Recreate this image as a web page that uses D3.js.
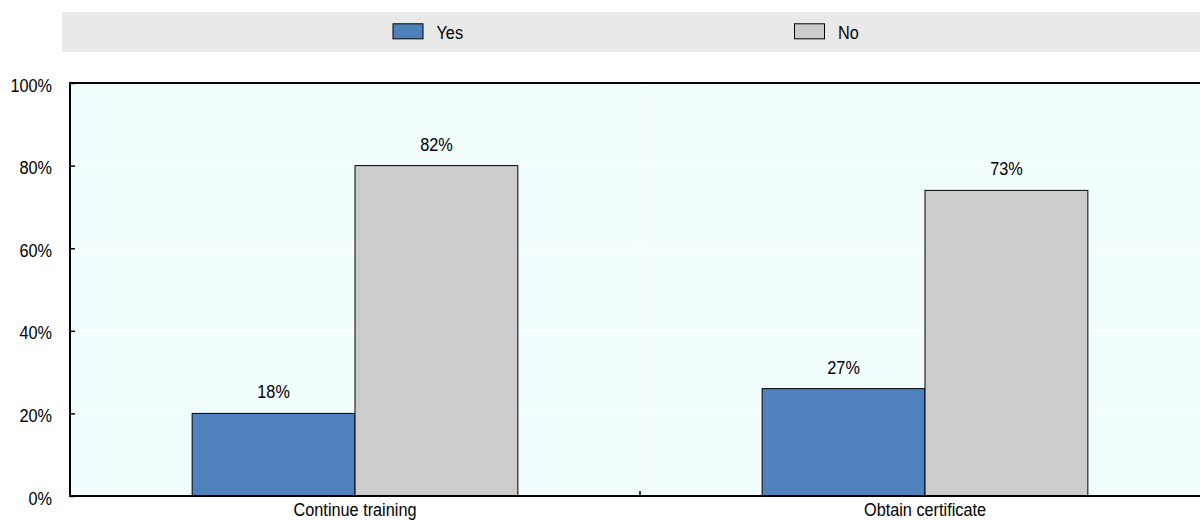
<!DOCTYPE html>
<html>
<head>
<meta charset="utf-8">
<script src="https://cdn.jsdelivr.net/npm/d3@7"></script>
<style>
  html, body { margin: 0; padding: 0; background: #ffffff; }
  svg { display: block; font-family: "Liberation Sans", Arial, sans-serif; }
</style>
</head>
<body>
<svg id="chart" width="1200" height="520"></svg>
<script>
const categories = ["Continue training", "Obtain certificate"];
const seriesNames = ["Yes", "No"];
const yesValues = [20, 26];
const noValues = [80, 74];
const yesLabels = ["18%", "27%"];
const noLabels = ["82%", "73%"];
const yTicks = [0, 20, 40, 60, 80, 100];
const colors = { Yes: "#4f81bd", No: "#cccccc" };

const FS = 18.5, SX = 0.88;
const svg = d3.select("#chart");
const plot = { left: 70, right: 1210, top: 83, bottom: 496 };

function narrowText(g, x, y, str, anchor) {
  return g.append("text")
    .attr("transform", `translate(${x},${y}) scale(${SX},1)`)
    .attr("text-anchor", anchor || "start")
    .attr("font-size", FS).attr("fill", "#000").text(str);
}

// legend band
svg.append("rect").attr("x", 62).attr("y", 12).attr("width", 1200).attr("height", 40).attr("fill", "#e9e9e9");
const legendItems = [{ name: "Yes", x: 393 }, { name: "No", x: 794.5 }];
legendItems.forEach(d => {
  svg.append("rect").attr("x", d.x).attr("y", 23.8).attr("width", 30).attr("height", 15)
    .attr("fill", colors[d.name]).attr("stroke", "#000").attr("stroke-width", 1);
  narrowText(svg, d.x + 43.5, 38.5, d.name);
});

const x = d3.scaleBand().domain(categories).range([plot.left, plot.right]).paddingInner(0).paddingOuter(0);
const xs = d3.scaleBand().domain(seriesNames).range([0, x.bandwidth()]).paddingInner(0).paddingOuter(0.75);
const y = d3.scaleLinear().domain([0, 100]).range([plot.bottom, plot.top]);

// plot background
svg.append("rect").attr("x", plot.left).attr("y", plot.top)
  .attr("width", plot.right - plot.left).attr("height", plot.bottom - plot.top).attr("fill", "#f1fdfe");

// gridlines
svg.append("g").selectAll("line").data(yTicks.filter(t => t > 0 && t < 100)).join("line")
  .attr("x1", plot.left).attr("x2", plot.right).attr("y1", d => y(d)).attr("y2", d => y(d))
  .attr("stroke", "#ffffff").attr("stroke-width", 1.5);
svg.append("line").attr("x1", x(categories[1])).attr("x2", x(categories[1]))
  .attr("y1", plot.top).attr("y2", plot.bottom).attr("stroke", "#ffffff").attr("stroke-width", 1.5);

// bars
const data = categories.map((c, i) => [
  { cat: c, s: "Yes", v: yesValues[i], label: yesLabels[i] },
  { cat: c, s: "No", v: noValues[i], label: noLabels[i] }
]).flat();

svg.append("g").selectAll("rect").data(data).join("rect")
  .attr("x", d => x(d.cat) + xs(d.s))
  .attr("y", d => y(d.v))
  .attr("width", xs.bandwidth())
  .attr("height", d => y(0) - y(d.v))
  .attr("fill", d => colors[d.s])
  .attr("stroke", "#000").attr("stroke-width", 1);

const gl = svg.append("g");
data.forEach(d => {
  narrowText(gl, x(d.cat) + xs(d.s) + xs.bandwidth() / 2, y(d.v) - 15, d.label, "middle");
});

// y axis
const yAxis = d3.axisLeft(y).tickValues(yTicks).tickFormat(d => d + "%").tickSize(-5);
const gy = svg.append("g").attr("transform", `translate(${plot.left},0)`).call(yAxis);
gy.select(".domain").remove();
gy.selectAll(".tick line").attr("stroke", "#000").attr("stroke-width", 1.5);
gy.selectAll(".tick text")
  .attr("x", null).attr("dy", null)
  .attr("transform", `translate(-18,8) scale(${SX},1)`)
  .attr("text-anchor", "end")
  .attr("font-size", FS).attr("fill", "#000").attr("font-family", "Liberation Sans, Arial, sans-serif");

// x axis
const xAxis = d3.axisBottom(x).tickSize(0);
const gx = svg.append("g").attr("transform", `translate(0,${plot.bottom})`).call(xAxis);
gx.select(".domain").remove();
gx.selectAll(".tick text")
  .attr("y", null).attr("dy", null)
  .attr("transform", `translate(0,19.5) scale(${SX},1)`)
  .attr("font-size", FS).attr("fill", "#000").attr("font-family", "Liberation Sans, Arial, sans-serif");

// category separator tick
svg.append("line").attr("x1", x(categories[1])).attr("x2", x(categories[1]))
  .attr("y1", plot.bottom - 5).attr("y2", plot.bottom).attr("stroke", "#000").attr("stroke-width", 1.5);

// frame
svg.append("rect").attr("x", plot.left).attr("y", plot.top)
  .attr("width", plot.right - plot.left).attr("height", plot.bottom - plot.top)
  .attr("fill", "none").attr("stroke", "#000").attr("stroke-width", 2);
</script>
</body>
</html>
